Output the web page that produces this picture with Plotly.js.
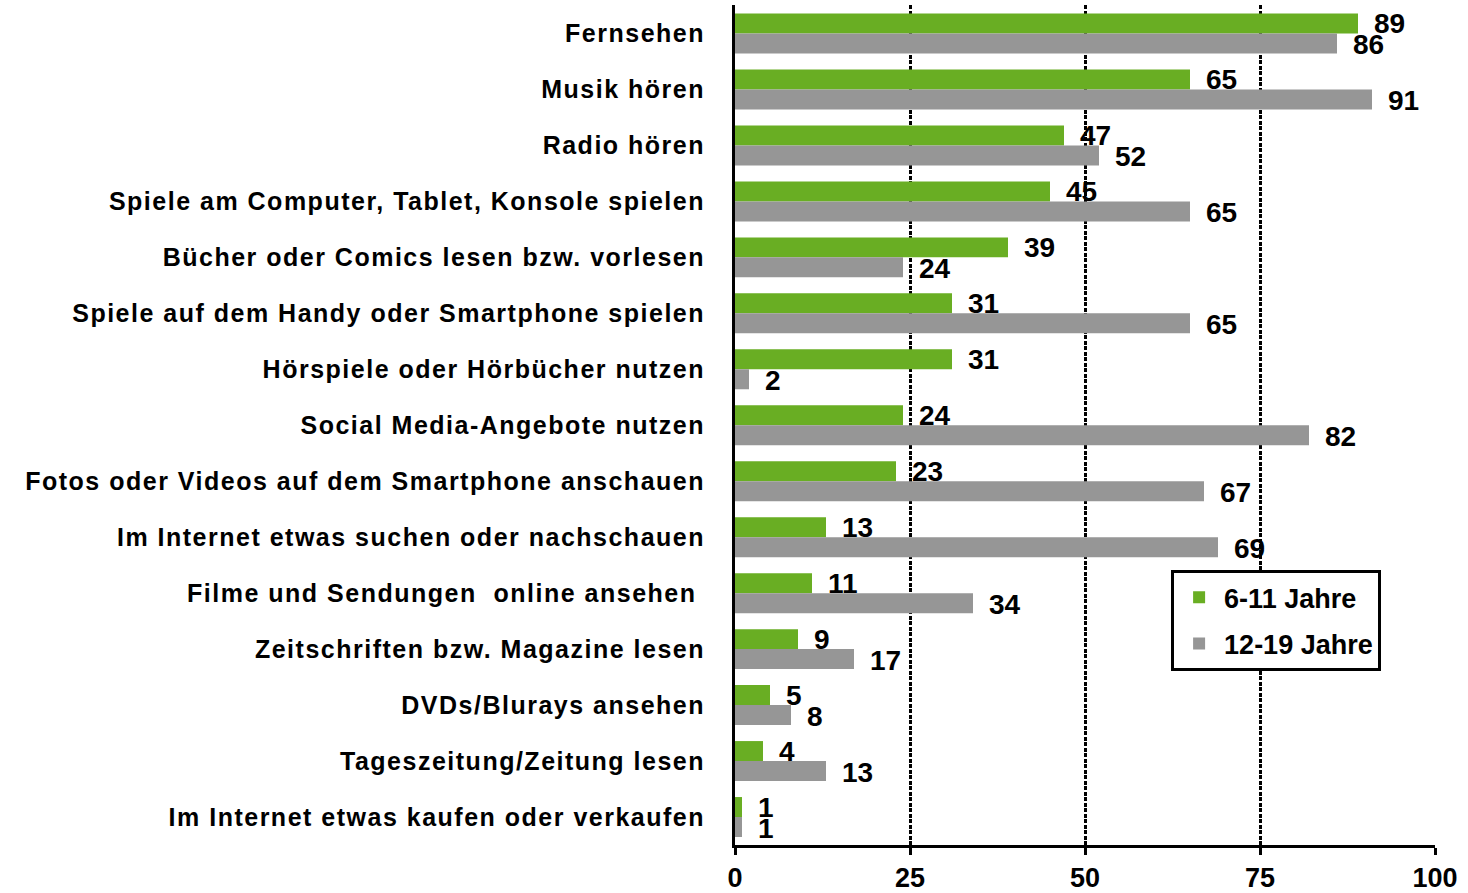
<!DOCTYPE html>
<html>
<head>
<meta charset="utf-8">
<script src="https://cdn.plot.ly/plotly-3.0.1.min.js"></script>
<style>
  body { margin: 0; background: #fff; }
  #chart { width: 1468px; height: 893px; }
  .ytick text { letter-spacing: 1.5px; }
</style>
</head>
<body>
<div id="chart"></div>
<script>
// activities, top to bottom
var categories = [
    "Fernsehen",
    "Musik hören",
    "Radio hören",
    "Spiele am Computer, Tablet, Konsole spielen",
    "Bücher oder Comics lesen bzw. vorlesen",
    "Spiele auf dem Handy oder Smartphone spielen",
    "Hörspiele oder Hörbücher nutzen",
    "Social Media-Angebote nutzen",
    "Fotos oder Videos auf dem Smartphone anschauen",
    "Im Internet etwas suchen oder nachschauen",
    "Filme und Sendungen\u00a0 online ansehen\u00a0",
    "Zeitschriften bzw. Magazine lesen",
    "DVDs/Blurays ansehen",
    "Tageszeitung/Zeitung lesen",
    "Im Internet etwas kaufen oder verkaufen"
];
var kids = [89, 65, 47, 45, 39, 31, 31, 24, 23, 13, 11, 9, 5, 4, 1];
var teens = [86, 91, 52, 65, 24, 65, 2, 82, 67, 69, 34, 17, 8, 13, 1];
var seriesNames = ["6-11 Jahre", "12-19 Jahre"];
var xTicks = [0, 25, 50, 75, 100];

var green = '#69ae23';
var grey = '#969696';
var labelFont = {family: 'Liberation Sans, Arial, sans-serif', size: 28, color: '#000', weight: 'bold'};

var data = [
    {
        type: 'bar',
        orientation: 'h',
        x: kids,
        y: categories,
        name: seriesNames[0],
        legendgroup: 'a',
        marker: {color: green},
        hoverinfo: 'x'
    },
    {
        type: 'bar',
        orientation: 'h',
        x: teens,
        y: categories,
        name: seriesNames[1],
        legendgroup: 'b',
        marker: {color: grey},
        hoverinfo: 'x'
    }
];

// value labels next to the bar ends
var annotations = [];
categories.forEach(function (cat, i) {
    annotations.push({
        x: kids[i], y: cat, text: String(kids[i]),
        xanchor: 'left', yanchor: 'middle', xshift: 14, yshift: 10,
        showarrow: false, font: labelFont
    });
    annotations.push({
        x: teens[i], y: cat, text: String(teens[i]),
        xanchor: 'left', yanchor: 'middle', xshift: 14, yshift: -11,
        showarrow: false, font: labelFont
    });
});

var layout = {
    width: 1468,
    height: 893,
    margin: {l: 735, r: 33, t: 5, b: 48},
    barmode: 'group',
    bargap: 0.286,
    bargroupgap: 0,
    paper_bgcolor: '#fff',
    plot_bgcolor: '#fff',
    showlegend: true,
    legend: {
        x: 0.623, y: 0.327,
        xanchor: 'left', yanchor: 'top',
        bgcolor: '#fff',
        bordercolor: '#000',
        borderwidth: 3,
        font: {family: 'Liberation Sans, Arial, sans-serif', size: 27, color: '#000', weight: 'bold'},
        traceorder: 'grouped',
        tracegroupgap: 8,
        itemwidth: 40
    },
    xaxis: {
        range: [0, 100],
        tickvals: xTicks,
        ticks: 'outside',
        ticklen: 7,
        tickwidth: 3,
        tickcolor: '#000',
        showline: true,
        linecolor: '#000',
        linewidth: 3,
        showgrid: true,
        gridcolor: '#000',
        gridwidth: 3,
        griddash: '4px,1.5px',
        zeroline: false,
        tickfont: {family: 'Liberation Sans Narrow, Arial Narrow, sans-serif', size: 27, color: '#000', weight: 'bold'},
        fixedrange: true
    },
    yaxis: {
        autorange: 'reversed',
        type: 'category',
        showline: true,
        linecolor: '#000',
        linewidth: 3,
        ticks: '',
        ticklabelstandoff: 22,
        showgrid: false,
        tickfont: {family: 'Liberation Sans, Arial, sans-serif', size: 25, color: '#000', weight: 'bold'},
        fixedrange: true
    },
    annotations: annotations
};

Plotly.newPlot('chart', data, layout, {displayModeBar: false, staticPlot: true});
</script>
</body>
</html>
